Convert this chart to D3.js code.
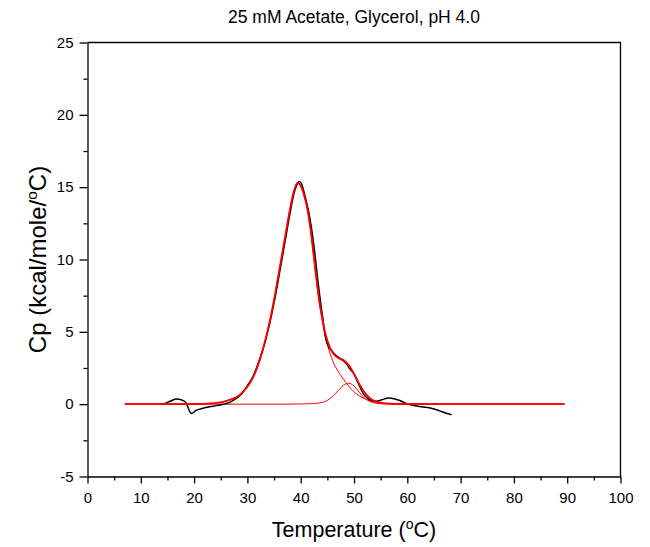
<!DOCTYPE html>
<html>
<head>
<meta charset="utf-8">
<script src="https://cdn.jsdelivr.net/npm/d3@7"></script>
<style>
  body { margin: 0; background: #fff; }
  text { font-family: Arial, "Liberation Sans", sans-serif; fill: #000; }
</style>
</head>
<body>
<div id="chart"></div>
<script>
// measured Cp trace (black)
const expT  = [13.5, 14.5, 15.5, 16.7, 17.6, 18.4, 19.5, 20.4, 21.5, 22.9, 24.2, 25.5, 26.5, 27.5, 28.6, 29.5, 30.3, 31.1, 32, 33, 34, 35, 36, 37, 38, 38.7, 39.2, 39.7, 40.2, 40.8, 41.7, 42.6, 43.2, 43.7, 44.2, 44.6, 45.2, 45.8, 47, 48, 48.6, 49.2, 49.8, 50.5, 51.1, 51.8, 52.6, 53.4, 54.2, 55.2, 56.5, 57.5, 58.6, 59.8, 61, 62, 63, 64.5, 65.5, 66.5, 67.5, 68.3];
const expCp = [0, 0.05, 0.2, 0.35, 0.3, 0.14, -0.65, -0.42, -0.3, -0.18, -0.1, 0, 0.1, 0.3, 0.6, 1.0, 1.45, 1.95, 2.8, 3.9, 5.3, 7.0, 9.0, 11.1, 13.2, 14.5, 15.1, 15.4, 15.2, 14.4, 12.9, 10.6, 8.6, 7.1, 5.8, 4.7, 4.0, 3.7, 3.25, 3.0, 2.8, 2.45, 2.2, 1.7, 1.2, 0.7, 0.4, 0.25, 0.2, 0.3, 0.42, 0.38, 0.25, 0.05, -0.08, -0.15, -0.2, -0.28, -0.38, -0.52, -0.65, -0.73];

// fitted curves (red): total fit and its two components
const fitT     = [7, 15, 20, 23, 25, 26.5, 28, 29, 30, 31, 32, 33, 34, 35, 36, 37, 38, 38.7, 39.4, 40, 40.6, 41.2, 41.8, 42.4, 43, 43.5, 44, 44.5, 45, 46, 47, 48, 49, 50, 51, 52, 53, 54, 55, 56, 58, 60, 70, 89.5];
const fitTotal = [0, 0, 0.01, 0.05, 0.12, 0.28, 0.5, 0.78, 1.2, 1.8, 2.7, 3.9, 5.4, 7.2, 9.3, 11.4, 13.5, 14.7, 15.3, 15.1, 14.5, 13.6, 12.2, 10.4, 8.5, 7.1, 6.0, 5.1, 4.4, 3.55, 3.2, 3.05, 2.7, 2.1, 1.4, 0.8, 0.42, 0.2, 0.1, 0.05, 0.02, 0.01, 0, 0];
const fitMain  = [0, 0, 0.01, 0.05, 0.12, 0.28, 0.5, 0.78, 1.2, 1.8, 2.7, 3.9, 5.4, 7.2, 9.3, 11.4, 13.5, 14.7, 15.28, 15.08, 14.48, 13.57, 12.17, 10.36, 8.44, 7.02, 5.88, 4.92, 4.14, 3.0, 2.28, 1.75, 1.25, 0.85, 0.58, 0.38, 0.24, 0.13, 0.07, 0.04, 0.02, 0.01, 0, 0];
const fitSmall = [0, 0, 0, 0, 0, 0, 0, 0, 0, 0, 0, 0, 0, 0, 0, 0, 0, 0.01, 0.02, 0.02, 0.02, 0.03, 0.03, 0.04, 0.06, 0.08, 0.12, 0.18, 0.26, 0.55, 0.92, 1.3, 1.45, 1.25, 0.82, 0.42, 0.18, 0.07, 0.03, 0.01, 0, 0, 0, 0];

const xTicks = [0, 10, 20, 30, 40, 50, 60, 70, 80, 90, 100];
const yTicks = [-5, 0, 5, 10, 15, 20, 25];
const titleText = "25 mM Acetate, Glycerol, pH 4.0";

const W = 650, H = 547;
const margin = {top: 42.5, right: 29.5, bottom: 70.5, left: 87.5};
const width = W - margin.left - margin.right;
const height = H - margin.top - margin.bottom;

const svg = d3.select("#chart").append("svg")
  .attr("width", W).attr("height", H);
const g = svg.append("g")
  .attr("transform", `translate(${margin.left},${margin.top})`);

const x = d3.scaleLinear().domain([0, 100]).range([0, width]);
const y = d3.scaleLinear().domain([-5, 25]).range([height, 0]);

// frame (top and right)
g.append("path")
  .attr("d", `M0,0H${width}V${height}`)
  .attr("fill", "none").attr("stroke", "#000").attr("stroke-width", 1.3);

// minor ticks
g.append("g").attr("transform", `translate(0,${height})`)
  .call(d3.axisBottom(x).tickValues(d3.range(5, 100, 10)).tickSize(4).tickFormat(""))
  .call(a => a.select(".domain").remove())
  .call(a => a.selectAll("line").attr("stroke-width", 1.3));
g.append("g")
  .call(d3.axisLeft(y).tickValues(d3.range(-2.5, 25, 5)).tickSize(4).tickFormat(""))
  .call(a => a.select(".domain").remove())
  .call(a => a.selectAll("line").attr("stroke-width", 1.3));

// major axes (plain hyphen for negatives, like the original)
const xAxis = g.append("g").attr("transform", `translate(0,${height})`)
  .call(d3.axisBottom(x).tickValues(xTicks).tickSize(7).tickSizeOuter(0).tickPadding(9)
    .tickFormat(d => String(d)));
const yAxis = g.append("g")
  .call(d3.axisLeft(y).tickValues(yTicks).tickSize(8).tickSizeOuter(0).tickPadding(6)
    .tickFormat(d => String(d)));
[xAxis, yAxis].forEach(a => {
  a.select(".domain").attr("stroke-width", 1.3);
  a.selectAll("line").attr("stroke-width", 1.3);
  a.selectAll("text").attr("font-size", 15).attr("font-family", "Arial, 'Liberation Sans', sans-serif");
});

// curves
const line = (xs, ys) => d3.line()
  .x((d, i) => x(xs[i]))
  .y(d => y(d))
  .curve(d3.curveMonotoneX)(ys);

g.append("path").attr("d", line(fitT, fitSmall))
  .attr("fill", "none").attr("stroke", "#ff0000").attr("stroke-width", 1);
g.append("path").attr("d", line(fitT, fitMain))
  .attr("fill", "none").attr("stroke", "#ff0000").attr("stroke-width", 1);
g.append("path").attr("d", line(expT, expCp))
  .attr("fill", "none").attr("stroke", "#000").attr("stroke-width", 1.5);
g.append("path").attr("d", line(fitT, fitTotal))
  .attr("fill", "none").attr("stroke", "#ff0000").attr("stroke-width", 1.8);

// title
svg.append("text")
  .attr("x", margin.left + width / 2).attr("y", 23)
  .attr("text-anchor", "middle").attr("font-size", 17.5)
  .text(titleText);

// x label
const xl = svg.append("text")
  .attr("x", margin.left + width / 2).attr("y", 537)
  .attr("text-anchor", "middle").attr("font-size", 21.5);
xl.append("tspan").text("Temperature (");
xl.append("tspan").attr("font-size", 14).attr("dy", -8.5).text("o");
xl.append("tspan").attr("dy", 8.5).text("C)");

// y label
const yl = svg.append("text")
  .attr("transform", `translate(46,${margin.top + height / 2}) rotate(-90)`)
  .attr("text-anchor", "middle").attr("font-size", 24);
yl.append("tspan").text("Cp (kcal/mole/");
yl.append("tspan").attr("font-size", 15.5).attr("dy", -9.5).text("o");
yl.append("tspan").attr("dy", 9.5).text("C)");
</script>
</body>
</html>
